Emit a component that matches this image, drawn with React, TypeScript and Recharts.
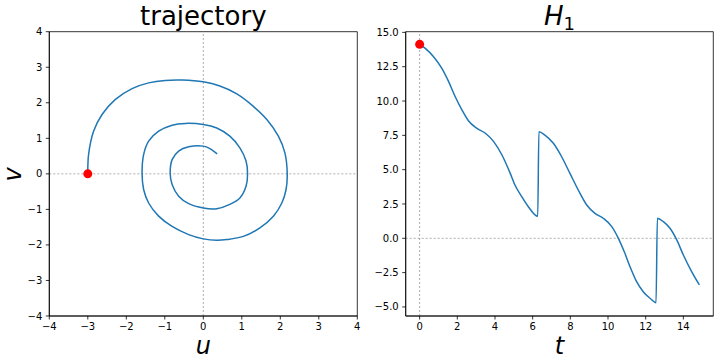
import React from "react";
import {
  LineChart,
  Line,
  XAxis,
  YAxis,
  ReferenceLine,
  ReferenceDot,
  ReferenceArea,
} from "recharts";

// ---- trajectory (phase portrait) ----
const uValues = [
  -3.0, -2.98, -2.85, -2.63, -2.29, -1.85, -1.42, -0.99, -0.55, 0.0, 0.43, 0.87,
  1.3, 1.65, 1.95, 2.12, 2.18, 2.15, 2.04, 1.82, 1.47, 1.04, 0.61, 0.35, 0.0,
  -0.38, -0.81, -1.16, -1.42, -1.55, -1.59, -1.55, -1.42, -1.16, -0.81, -0.47,
  0.0, 0.35, 0.69, 0.95, 1.11, 1.15, 1.11, 0.95, 0.69, 0.35, 0.0, -0.38, -0.64,
  -0.81, -0.86, -0.81, -0.64, -0.38, 0.0, 0.17, 0.36,
];
const vValues = [
  0.0, 0.54, 1.2, 1.67, 2.09, 2.4, 2.56, 2.63, 2.64, 2.59, 2.47, 2.25, 1.9, 1.53,
  1.06, 0.59, 0.0, -0.44, -0.82, -1.19, -1.52, -1.76, -1.85, -1.87, -1.83, -1.71,
  -1.48, -1.19, -0.82, -0.44, 0.0, 0.54, 0.92, 1.2, 1.37, 1.42, 1.39, 1.29, 1.06,
  0.73, 0.36, 0.0, -0.35, -0.68, -0.86, -0.98, -0.96, -0.84, -0.63, -0.3, 0.0,
  0.4, 0.64, 0.76, 0.78, 0.71, 0.56,
];

// ---- H_1 over time ----
const tValues = [
  0.0, 0.3, 0.74, 1.18, 1.54, 1.89, 2.25, 2.6, 3.04, 3.49, 3.93, 4.37, 4.81,
  5.06, 5.42, 5.77, 6.27, 6.33, 6.65, 7.1, 7.54, 7.98, 8.42, 8.87, 9.31, 9.75,
  10.2, 10.55, 10.87, 11.17, 11.52, 11.87, 12.23, 12.55, 12.62, 12.94, 13.29,
  13.65, 14.0, 14.44, 14.85,
];
const hValues = [
  14.13, 13.84, 13.23, 12.38, 11.41, 10.31, 9.34, 8.54, 8.01, 7.65, 7.04, 6.07,
  4.73, 3.88, 3.03, 2.3, 1.6, 7.76, 7.52, 6.92, 5.94, 4.73, 3.52, 2.43, 1.82,
  1.46, 0.85, 0.0, -1.0, -2.07, -3.16, -3.89, -4.37, -4.69, 1.46, 1.21, 0.73,
  -0.12, -1.22, -2.43, -3.4,
];

const uTicks = [-4, -3, -2, -1, 0, 1, 2, 3, 4];
const vTicks = [-4, -3, -2, -1, 0, 1, 2, 3, 4];
const tTicks = [0, 2, 4, 6, 8, 10, 12, 14];
const hTicks = [-5, -2.5, 0, 2.5, 5, 7.5, 10, 12.5, 15];

const spiral = uValues.map((u, i) => ({ u, v: vValues[i] }));
const hData = tValues.map((t, i) => ({ t, h: hValues[i] }));

// centripetal Catmull-Rom curve factory (smooth path through the points)
function catmullRom(context: any) {
  let pts: [number, number][] = [];
  const alpha = 0.5;
  return {
    areaStart() {},
    areaEnd() {},
    lineStart() {
      pts = [];
    },
    point(x: number, y: number) {
      pts.push([+x, +y]);
    },
    lineEnd() {
      if (!pts.length) return;
      context.moveTo(pts[0][0], pts[0][1]);
      const dist = (a: [number, number], b: [number, number]) =>
        Math.hypot(a[0] - b[0], a[1] - b[1]);
      for (let i = 0; i < pts.length - 1; i++) {
        const p0 = i > 0 ? pts[i - 1] : pts[i];
        const p1 = pts[i];
        const p2 = pts[i + 1];
        const p3 = i + 2 < pts.length ? pts[i + 2] : p2;
        const l01 = Math.pow(dist(p0, p1), alpha);
        const l12 = Math.pow(dist(p1, p2), alpha);
        const l23 = Math.pow(dist(p2, p3), alpha);
        const l01_2 = l01 * l01, l12_2 = l12 * l12, l23_2 = l23 * l23;
        let c1x = p1[0], c1y = p1[1], c2x = p2[0], c2y = p2[1];
        if (l01 > 1e-9) {
          const a = 2 * l01_2 + 3 * l01 * l12 + l12_2;
          const n = 3 * l01 * (l01 + l12);
          c1x = (p1[0] * a - p0[0] * l12_2 + p2[0] * l01_2) / n;
          c1y = (p1[1] * a - p0[1] * l12_2 + p2[1] * l01_2) / n;
        }
        if (l23 > 1e-9) {
          const b = 2 * l23_2 + 3 * l23 * l12 + l12_2;
          const m = 3 * l23 * (l23 + l12);
          c2x = (p2[0] * b + p1[0] * l23_2 - p3[0] * l12_2) / m;
          c2y = (p2[1] * b + p1[1] * l23_2 - p3[1] * l12_2) / m;
        }
        context.bezierCurveTo(c1x, c1y, c2x, c2y, p2[0], p2[1]);
      }
    },
  };
}

const FONT = "DejaVu Sans";
const minus = (s: string) => s.replace("-", "\u2212");
const tickStyle = { fontSize: 10, fill: "#000", fontFamily: FONT };
const axisLine = { stroke: "#000", strokeWidth: 0.8 };
const tickLine = { stroke: "#000", strokeWidth: 0.8 };
const BLUE = "#1f77b4";

const U_DOMAIN: [number, number] = [-4, 4];
const V_DOMAIN: [number, number] = [-4, 4];
const T_DOMAIN: [number, number] = [-0.74, 15.59];
const H_DOMAIN: [number, number] = [-5.66, 15.05];

export default function App() {
  return (
    <div
      style={{
        position: "absolute",
        left: 0,
        top: 0,
        width: 720,
        height: 360,
        background: "#fff",
        overflow: "hidden",
      }}
    >
      <div style={{ position: "absolute", left: 0, top: 0 }}>
        <LineChart
          width={370}
          height={360}
          data={spiral}
          margin={{ top: 31.7, right: 12.7, bottom: 0, left: 0 }}
        >
          <XAxis
            dataKey="u"
            type="number"
            domain={U_DOMAIN}
            ticks={uTicks}
            allowDataOverflow
            height={44}
            tick={tickStyle}
            tickSize={3.5}
            tickMargin={3.5}
            axisLine={axisLine}
            tickLine={tickLine}
            tickFormatter={(v: number) => minus(String(v))}
          />
          <YAxis
            type="number"
            domain={V_DOMAIN}
            ticks={vTicks}
            allowDataOverflow
            width={49.3}
            tick={tickStyle}
            tickSize={3.5}
            tickMargin={3.5}
            axisLine={axisLine}
            tickLine={tickLine}
            tickFormatter={(v: number) => minus(String(v))}
          />
          <ReferenceArea
            x1={U_DOMAIN[0]}
            x2={U_DOMAIN[1]}
            y1={V_DOMAIN[0]}
            y2={V_DOMAIN[1]}
            fill="none"
            stroke="#000"
            strokeWidth={0.8}
            ifOverflow="visible"
          />
          <ReferenceLine x={0} stroke="#888" strokeDasharray="2 2" strokeWidth={0.7} />
          <ReferenceLine y={0} stroke="#888" strokeDasharray="2 2" strokeWidth={0.7} />
          <Line
            dataKey="v"
            type={catmullRom as any}
            stroke={BLUE}
            strokeWidth={1.5}
            dot={false}
            activeDot={false}
            isAnimationActive={false}
          />
          <ReferenceDot
            x={uValues[0]}
            y={vValues[0]}
            r={4.5}
            fill="#ff0000"
            stroke="none"
          />
        </LineChart>
      </div>

      <div style={{ position: "absolute", left: 360, top: 0 }}>
        <LineChart
          width={360}
          height={360}
          data={hData}
          margin={{ top: 31.7, right: 6.7, bottom: 0, left: 0 }}
        >
          <XAxis
            dataKey="t"
            type="number"
            domain={T_DOMAIN}
            ticks={tTicks}
            allowDataOverflow
            height={44}
            tick={tickStyle}
            tickSize={3.5}
            tickMargin={3.5}
            axisLine={axisLine}
            tickLine={tickLine}
          />
          <YAxis
            type="number"
            domain={H_DOMAIN}
            ticks={hTicks}
            allowDataOverflow
            width={45.7}
            tick={tickStyle}
            tickSize={3.5}
            tickMargin={3.5}
            axisLine={axisLine}
            tickLine={tickLine}
            tickFormatter={(v: number) => minus(v.toFixed(1))}
          />
          <ReferenceArea
            x1={T_DOMAIN[0]}
            x2={T_DOMAIN[1]}
            y1={H_DOMAIN[0]}
            y2={H_DOMAIN[1]}
            fill="none"
            stroke="#000"
            strokeWidth={0.8}
            ifOverflow="visible"
          />
          <ReferenceLine x={0} stroke="#888" strokeDasharray="2 2" strokeWidth={0.7} />
          <ReferenceLine y={0} stroke="#888" strokeDasharray="2 2" strokeWidth={0.7} />
          <Line
            dataKey="h"
            type="monotone"
            stroke={BLUE}
            strokeWidth={1.5}
            dot={false}
            activeDot={false}
            isAnimationActive={false}
          />
          <ReferenceDot
            x={tValues[0]}
            y={hValues[0]}
            r={4.5}
            fill="#ff0000"
            stroke="none"
          />
        </LineChart>
      </div>

      <svg
        width={720}
        height={360}
        style={{ position: "absolute", left: 0, top: 0, pointerEvents: "none" }}
      >
        <text x={203.3} y={25} textAnchor="middle" fontFamily={FONT} fontSize={26} fill="#000">
          trajectory
        </text>
        <text x={559.5} y={25} textAnchor="middle" fontFamily={FONT} fontSize={26} fill="#000">
          <tspan fontStyle="italic">H</tspan>
          <tspan fontSize={18} dy={5}>1</tspan>
        </text>
        <text x={203.3} y={354} textAnchor="middle" fontFamily={FONT} fontStyle="italic" fontSize={24} fill="#000">
          u
        </text>
        <text x={559.5} y={354} textAnchor="middle" fontFamily={FONT} fontStyle="italic" fontSize={24} fill="#000">
          t
        </text>
        <text
          x={0}
          y={0}
          transform="translate(21,174.3) rotate(-90)"
          textAnchor="middle"
          fontFamily={FONT}
          fontStyle="italic"
          fontSize={24}
          fill="#000"
        >
          v
        </text>
      </svg>
    </div>
  );
}
